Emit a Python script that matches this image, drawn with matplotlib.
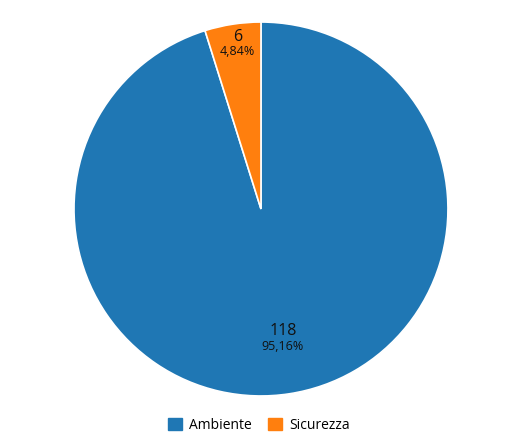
import matplotlib
matplotlib.use("Agg")
import matplotlib.pyplot as plt
import numpy as np

categories = ["Ambiente", "Sicurezza"]
values = [118, 6]
colors = ["#1f77b4", "#ff7f0e"]

plt.rcParams['font.family'] = ['Open Sans', 'DejaVu Sans']

fig = plt.figure(figsize=(5.23, 4.46), dpi=100)
ax = fig.add_axes([0.1415, 0.1121, 0.715, 0.8386])
wedges, _ = ax.pie(values, colors=colors, startangle=90, counterclock=False,
                   wedgeprops=dict(edgecolor='white', linewidth=1.2))
ax.set_xlim(-1, 1)
ax.set_ylim(-1, 1)
ax.set_aspect('equal')

total = sum(values)
radii = [0.705, 0.89]
for w, v, r in zip(wedges, values, radii):
    ang = np.deg2rad((w.theta1 + w.theta2) / 2)
    x, y = r * np.cos(ang), r * np.sin(ang)
    pct = f"{v / total * 100:.2f}%".replace('.', ',')
    ax.text(x + 0.01, y + 0.042, str(v), ha='center', va='center', fontsize=11.5, color='#111111')
    ax.text(x + 0.01, y - 0.04, pct, ha='center', va='center', fontsize=9, color='#111111')

handles = [plt.Rectangle((0, 0), 1, 1, color=c) for c in colors]
fig.legend(handles, categories, loc='center', bbox_to_anchor=(0.495, 0.047), ncol=2,
           frameon=False, fontsize=10, handlelength=1.0, handleheight=1.0,
           handletextpad=0.5, columnspacing=1.2)

fig.savefig("out.png", dpi=100)
